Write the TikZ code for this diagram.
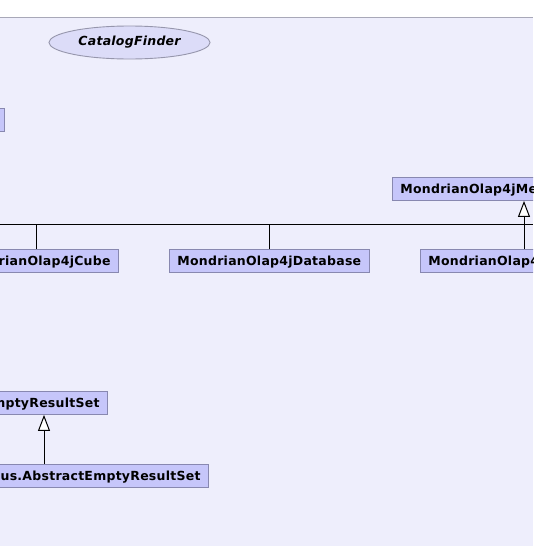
\documentclass[tikz,border=0pt]{standalone}
\usepackage{fontspec}
\setmainfont{DejaVu Sans}
\newfontfamily\umlfont[LetterSpace=2]{DejaVu Sans}
\usetikzlibrary{arrows.meta,shapes.geometric}
\definecolor{bgcol}{RGB}{238,238,252}
\definecolor{boxfill}{RGB}{198,198,250}
\definecolor{boxdraw}{RGB}{136,136,176}
\definecolor{ellfill}{RGB}{220,220,248}
\definecolor{elldraw}{RGB}{150,150,172}
\definecolor{topline}{RGB}{168,168,184}
\begin{document}
\begin{tikzpicture}[x=1pt,y=-1pt,
  cls/.style={draw=boxdraw, fill=boxfill, line width=0.9pt,
    font=\umlfont\bfseries\fontsize{12.5}{14}\selectfont,
    minimum height=23pt, text height=8.5pt, text depth=0pt,
    inner xsep=8pt, inner ysep=0pt},
  iface/.style={ellipse, draw=elldraw, fill=ellfill, line width=0.9pt,
    font=\umlfont\bfseries\itshape\fontsize{12.5}{14}\selectfont,
    minimum width=161pt, minimum height=33pt, inner sep=0pt},
  conn/.style={draw=black, line width=1pt},
  inh/.style={conn, -{Triangle[length=16pt,width=12pt,fill=white]}}]
\useasboundingbox (0,0) rectangle (533,546);
\clip (0,0) rectangle (533,546);
\fill[white] (0,0) rectangle (533,546);
\fill[bgcol] (0,17) rectangle (533,546);
\draw[topline, line width=1pt] (0,17) -- (533,17);

\node[iface] (cf) at (129.5,42.5) {CatalogFinder};

\node[cls, anchor=north east, minimum width=60pt] (leftbox) at (5,108) {};

\node[cls, anchor=north west, text width=200pt, align=left] (meta) at (392,177) {MondrianOlap4jMe};

\node[cls, anchor=north east, text width=180pt, align=right] (cube) at (119,249) {rianOlap4jCube};
\node[cls, anchor=north west] (db) at (169,249) {MondrianOlap4jDatabase};
\node[cls, anchor=north west, text width=200pt, align=left] (work) at (420,249) {MondrianOlap4};

\node[cls, anchor=north east, text width=180pt, align=right] (empty) at (108,391) {mptyResultSet};
\node[cls, anchor=north east, text width=260pt, align=right] (abs) at (209,464) {us.AbstractEmptyResultSet};

\coordinate (hl) at (0,224);
\coordinate (hr) at (533,224);
\coordinate (j1) at (36,224);
\coordinate (j3) at (524,224);
\coordinate (j4) at (44,440);

\draw[conn] (hl) -- (hr);
\draw[conn] (j1) -- (j1 |- cube.north);
\draw[conn] (db.north) -- (db.north |- hl);
\draw[inh] (j3 |- work.north) -- (j3 |- meta.south);
\draw[inh] (j4 |- abs.north) -- (j4 |- empty.south);
\end{tikzpicture}
\end{document}
